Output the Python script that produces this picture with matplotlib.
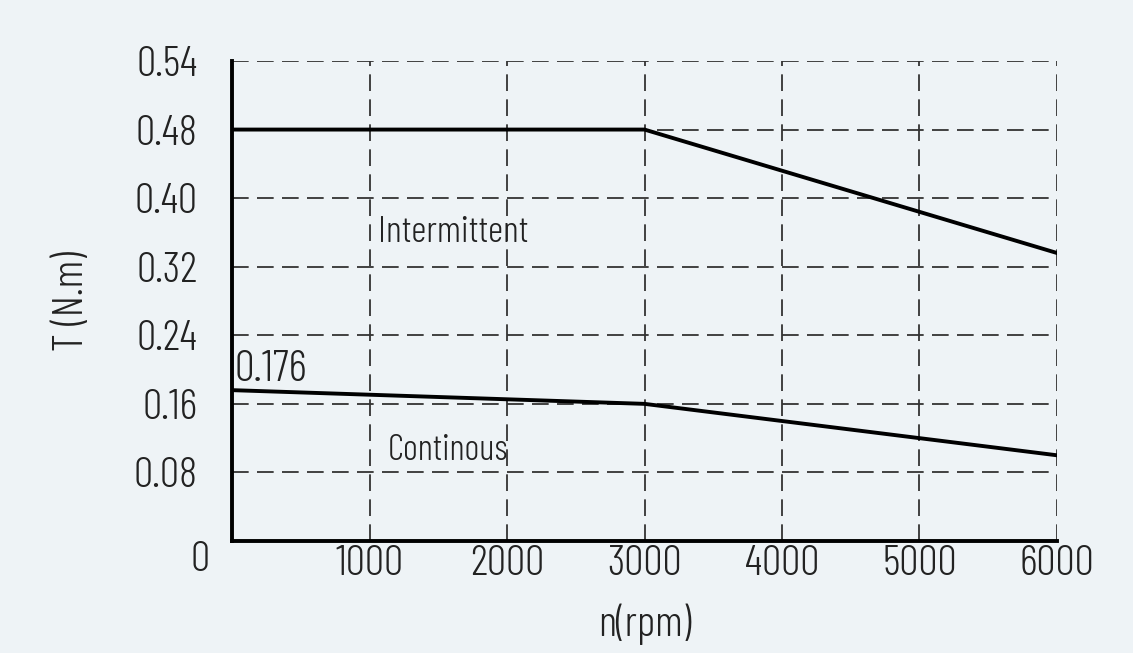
import matplotlib.pyplot as plt

plt.rcParams['font.family'] = ['Barlow Condensed', 'DejaVu Sans']
plt.rcParams['font.weight'] = 300
plt.rcParams['lines.scale_dashes'] = False

# speed (rpm) and torque (N.m)
speed = [0, 3000, 6000]
intermittent = [0.48, 0.48, 0.336]
continuous = [0.176, 0.16, 0.10]

x_ticks = [1000, 2000, 3000, 4000, 5000, 6000]
y_ticks = [0.08, 0.16, 0.24, 0.32, 0.40, 0.48, 0.56]
y_labels = ['0.08', '0.16', '0.24', '0.32', '0.40', '0.48', '0.54']

bg = '#eef3f6'
ink = '#222222'
fig = plt.figure(figsize=(11.33, 6.53), dpi=100, facecolor=bg)
ax = fig.add_axes([0.2048, 0.1715, 0.7281, 0.7351], facecolor=bg)

ax.plot(speed, intermittent, color='black', lw=2.8, solid_joinstyle='miter')
ax.plot(speed, continuous, color='black', lw=2.8, solid_joinstyle='miter')

ax.set_xlim(0, 6000)
ax.set_ylim(0, 0.56)
ax.set_xticks(x_ticks)
ax.set_yticks(y_ticks)
ax.set_xticklabels([str(t) for t in x_ticks])
ax.set_yticklabels(y_labels)
ax.tick_params(length=0, labelsize=31, colors=ink)
ax.tick_params(axis='x', pad=3)
ax.tick_params(axis='y', pad=25)
ax.grid(True, color='#333333', lw=1.3, dashes=(12, 6))

for s in ['top', 'right']:
    ax.spines[s].set_visible(False)
for s in ['left', 'bottom']:
    ax.spines[s].set_linewidth(2.8)
    ax.spines[s].set_zorder(5)

ax.text(-230, 0.0, '0', fontsize=31, color=ink, ha='center', va='top')
ax.text(1062, 0.36, 'Intermittent', fontsize=27, color=ink, va='center')
ax.text(1135, 0.106, 'Continous', fontsize=26, color=ink, va='center')
ax.text(15, 0.199, '0.176', fontsize=32, color=ink, va='center')

ax.set_xlabel('n(rpm)', fontsize=31, fontweight=300, color=ink, labelpad=14)
ax.set_ylabel('T (N.m)', fontsize=31, fontweight=300, color=ink, labelpad=30)

fig.savefig('out.png', dpi=100, facecolor=bg)
